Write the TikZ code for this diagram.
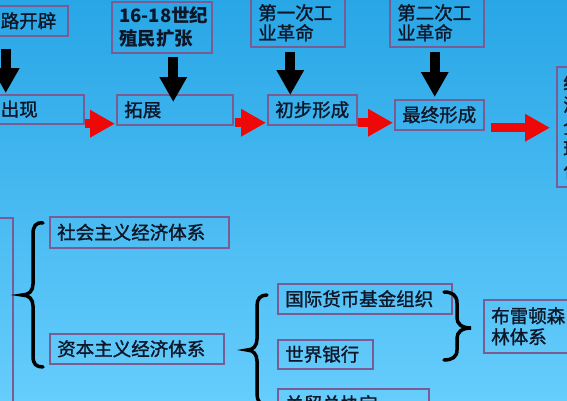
\documentclass[tikz,border=0pt]{standalone}
\usepackage{fontspec}
\setmainfont{Noto Sans CJK SC}[UprightFeatures={FakeBold=1.3}]
\usetikzlibrary{arrows.meta}
\definecolor{bgtop}{RGB}{40,166,230}
\definecolor{bgbot}{RGB}{102,205,252}
\definecolor{boxc}{RGB}{122,92,146}
\definecolor{txt}{RGB}{14,22,40}
\definecolor{redc}{RGB}{238,8,8}
\begin{document}
\begin{tikzpicture}[x=1pt,y=-1pt,
  box/.style={draw=boxc, line width=1.5pt, anchor=north west, inner xsep=7.5pt, inner ysep=0pt,
    align=left, text=txt, font=\fontsize{18.5}{21}\selectfont},
  blkarrow/.style={line width=10pt, draw=black, -{Triangle[length=25pt,width=26pt]}},
  redarrow/.style={line width=9pt, draw=redc, -{Triangle[length=25pt,width=26pt]}},
  bracepath/.style={line width=3.5pt, draw=black, line cap=round}
]
\useasboundingbox (0,0) rectangle (567,400);
\clip (0,0) rectangle (567,400);
\shade[top color=bgtop, bottom color=bgbot] (-1,-1) rectangle (568,401);

% top row
\node[box, text width=59.5pt, minimum height=30pt] (top1) at (-7.5,5) {路开辟};
\node[box, text width=85pt, minimum height=51pt, font=\fontsize{18.5}{23}\selectfont] (top2) at (111,1) {\bfseries\mbox{16-18世纪}\\\bfseries 殖民扩张};
\node[box, text width=79pt, minimum height=48pt, font=\fontsize{18.5}{20}\selectfont] (top3) at (250,-2) {第一次工\\业革命};
\node[box, text width=79pt, minimum height=48pt, font=\fontsize{18.5}{20}\selectfont] (top4) at (389,-2) {第二次工\\业革命};

% second row
\node[box, text width=75.5pt, minimum height=29pt] (bot1) at (-7.5,94) {出现};
\node[box, text width=101pt, minimum height=30pt] (bot2) at (116,94) {拓展};
\node[box, text width=74pt, minimum height=30pt] (bot3) at (267,94) {初步形成};
\node[box, text width=74pt, minimum height=30pt] (bot4) at (394,99) {最终形成};
\node[box, inner xsep=6.5pt, text width=37pt, minimum height=120pt, font=\fontsize{18.5}{22}\selectfont] (side) at (556,66) {经\\济\\全\\球\\化};

% black arrows
\draw[blkarrow] ([xshift=-24.75pt,yshift=-12pt]top1.south) -- ([xshift=-32.75pt,yshift=1pt]bot1.north);
\draw[blkarrow] ([xshift=11.5pt,yshift=-3pt]top2.south) -- ([xshift=-1.5pt,yshift=-8pt]bot2.north);
\draw[blkarrow] ([xshift=-7.5pt,yshift=-4pt]top3.south) -- ([xshift=-22pt,yshift=-1pt]bot3.north);
\draw[blkarrow] ([xshift=-2pt,yshift=-4pt]top4.south) -- ([xshift=-4.5pt,yshift=2pt]bot4.north);

% red arrows
\draw[redarrow] ([yshift=-14.5pt]bot1.east) -- ([xshift=-1pt,yshift=-14pt]bot2.west);
\draw[redarrow] ([xshift=1pt,yshift=-13pt]bot2.east) -- ([xshift=-1pt,yshift=-13pt]bot3.west);
\draw[redarrow] ([yshift=-13pt]bot3.east) -- ([xshift=-1pt,yshift=-8pt]bot4.west);
\draw[redarrow] ([xshift=6pt,yshift=-13pt]bot4.east) -- ([xshift=-6pt,yshift=-1pt]side.west);

% lower part
\node[box, text width=17pt, minimum height=210pt] (tall) at (-20,217) {};
\node[box, text width=164pt, minimum height=31pt] (soc) at (49,216) {社会主义经济体系};
\node[box, text width=159pt, minimum height=30pt] (cap) at (49,333) {资本主义经济体系};
\node[box, text width=159pt, minimum height=30pt] (imf) at (277,283) {国际货币基金组织};
\node[box, text width=80pt, minimum height=29pt] (wb) at (277,339) {世界银行};
\node[box, text width=136pt, minimum height=30pt] (gatt) at (277,388) {关贸总协定};
\node[box, text width=85pt, minimum height=53pt] (bw) at (483,299) {布雷顿森\\林体系};

% braces
\draw[bracepath] (43,223) .. controls (36,222) and (33,226) .. (33,234) -- (33,284)
  .. controls (33,291) and (29,295) .. (22,295) .. controls (29,295) and (33,299) .. (33,306)
  -- (33,356) .. controls (33,364) and (36,367) .. (43,367);
\draw[bracepath] (267,295) .. controls (260,295) and (257,299) .. (257,306) -- (257,339)
  .. controls (257,346) and (253,350) .. (247,350) .. controls (253,350) and (257,354) .. (257,361)
  -- (257,394) .. controls (257,401) and (260,405) .. (267,405);
\draw[bracepath] (444,292) .. controls (452,292) and (457,295) .. (457,303) -- (457,318)
  .. controls (457,324) and (462,328) .. (471,328) .. controls (462,328) and (457,332) .. (457,338)
  -- (457,350) .. controls (457,357) and (452,360) .. (444,360);
\end{tikzpicture}
\end{document}
